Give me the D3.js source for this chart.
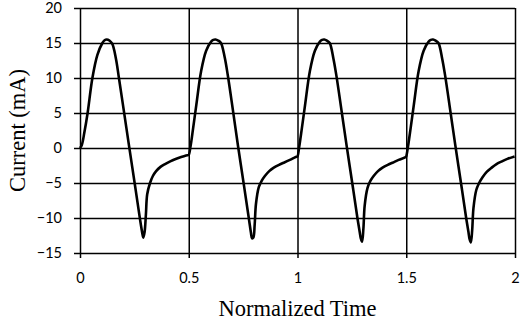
<!DOCTYPE html>
<html>
<head>
<meta charset="utf-8">
<script src="https://cdn.jsdelivr.net/npm/d3@7"></script>
<style>
  body { margin: 0; background: #fff; }
  svg { display: block; }
</style>
</head>
<body>
<div id="chart"></div>
<script>
// time within one cycle (normalized), shared by every cycle
const phase = [0.000, 0.008, 0.020, 0.035, 0.057, 0.080, 0.103, 0.113, 0.123, 0.135, 0.148, 0.165, 0.179, 0.204, 0.226,
  0.256, 0.276, 0.286, 0.291, 0.297, 0.303, 0.309, 0.322, 0.335, 0.350, 0.370, 0.391, 0.415, 0.437, 0.465, 0.498]

const cycleStart = [0, 0.5, 1, 1.5]

// current (mA)
const cycle1 = [0.0, 0.4, 2.2, 5.0, 10.0, 13.3, 15.0, 15.4, 15.5, 15.35, 14.9, 12.8, 10.0, 4.8, 0.2,
  -6.0, -10.2, -12.1, -12.8, -12.0, -9.5, -6.6, -5.0, -4.0, -3.3, -2.7, -2.3, -1.9, -1.6, -1.3, -1.0]
const cycle2 = [-1.0, 0.2, 2.8, 6.2, 11.0, 13.9, 15.2, 15.45, 15.5, 15.35, 15.0, 13.0, 10.5, 5.2, 0.4,
  -5.8, -10.0, -12.1, -12.9, -12.8, -11.0, -8.0, -5.6, -4.7, -4.0, -3.3, -2.8, -2.4, -2.1, -1.7, -1.2]
const cycle3 = [-1.2, 0.2, 2.8, 6.2, 11.0, 13.9, 15.2, 15.45, 15.5, 15.35, 15.0, 12.8, 10.3, 5.0, 0.3,
  -5.9, -10.1, -12.0, -12.9, -13.4, -11.5, -8.2, -5.7, -4.7, -4.0, -3.3, -2.8, -2.4, -2.1, -1.7, -1.3]
const cycle4 = [-1.2, 0.2, 2.8, 6.2, 11.0, 13.9, 15.2, 15.45, 15.5, 15.35, 15.0, 12.8, 10.3, 5.0, 0.3,
  -5.9, -10.1, -12.0, -13.0, -13.5, -11.8, -8.6, -6.0, -5.0, -4.2, -3.4, -2.85, -2.3, -1.95, -1.55, -1.2]

const xTicks = [0, 0.5, 1, 1.5, 2]
const yTicks = [-15, -10, -5, 0, 5, 10, 15, 20]

const width = 520
const height = 325
const margin = { top: 8, right: 5, bottom: 72, left: 80 }

const cycles = [cycle1, cycle2, cycle3, cycle4]
const points = []
cycles.forEach((vals, i) => {
  vals.forEach((v, j) => points.push({ t: cycleStart[i] + phase[j], v }))
})

const x = d3.scaleLinear().domain([0, 2]).range([margin.left, width - margin.right])
const y = d3.scaleLinear().domain([-15, 20]).range([height - margin.bottom, margin.top])

const svg = d3.select("#chart")
  .append("svg")
  .attr("width", width)
  .attr("height", height)
  .style("background", "#fff")

const tickFont = "Lato, 'Open Sans', sans-serif"
const titleFont = "'Liberation Serif', 'Times New Roman', serif"
const gridWidth = 1.5

// gridlines
svg.append("g")
  .attr("transform", `translate(${margin.left},0)`)
  .call(d3.axisLeft(y).tickValues(yTicks).tickSize(-(width - margin.right - margin.left)).tickFormat(""))
  .call(g => g.select(".domain").remove())
  .call(g => g.selectAll("line").attr("stroke", "#000").attr("stroke-width", gridWidth))

svg.append("g")
  .attr("transform", `translate(0,${height - margin.bottom})`)
  .call(d3.axisBottom(x).tickValues(xTicks).tickSize(-(height - margin.bottom - margin.top)).tickFormat(""))
  .call(g => g.select(".domain").remove())
  .call(g => g.selectAll("line").attr("stroke", "#000").attr("stroke-width", gridWidth))

// axes with outside ticks and labels
svg.append("g")
  .attr("transform", `translate(${margin.left},0)`)
  .call(d3.axisLeft(y).tickValues(yTicks).tickSize(6).tickPadding(12).tickFormat(d3.format("d")))
  .call(g => g.select(".domain").remove())
  .call(g => g.selectAll("line").attr("stroke", "#000").attr("stroke-width", gridWidth))
  .call(g => g.selectAll("text")
    .attr("fill", "#000")
    .style("font-family", tickFont)
    .style("font-size", "14.5px"))

svg.append("g")
  .attr("transform", `translate(0,${height - margin.bottom})`)
  .call(d3.axisBottom(x).tickValues(xTicks).tickSize(5).tickPadding(14.5).tickFormat(d => String(d)))
  .call(g => g.select(".domain").remove())
  .call(g => g.selectAll("line").attr("stroke", "#000").attr("stroke-width", gridWidth))
  .call(g => g.selectAll("text")
    .attr("fill", "#000")
    .style("font-family", tickFont)
    .style("font-size", "14.5px"))

// the current trace
const line = d3.line()
  .x(d => x(d.t))
  .y(d => y(d.v))
  .curve(d3.curveCatmullRom.alpha(0.5))

svg.append("path")
  .datum(points)
  .attr("fill", "none")
  .attr("stroke", "#000")
  .attr("stroke-width", 2.6)
  .attr("stroke-linejoin", "round")
  .attr("d", line)

// axis titles
svg.append("text")
  .attr("x", (x(0) + x(2)) / 2)
  .attr("y", 316)
  .attr("text-anchor", "middle")
  .style("font-family", titleFont)
  .style("font-size", "22.5px")
  .text("Normalized Time")

svg.append("text")
  .attr("transform", `translate(25,${(y(20) + y(-15)) / 2}) rotate(-90)`)
  .attr("text-anchor", "middle")
  .style("font-family", titleFont)
  .style("font-size", "22.5px")
  .text("Current (mA)")
</script>
</body>
</html>
